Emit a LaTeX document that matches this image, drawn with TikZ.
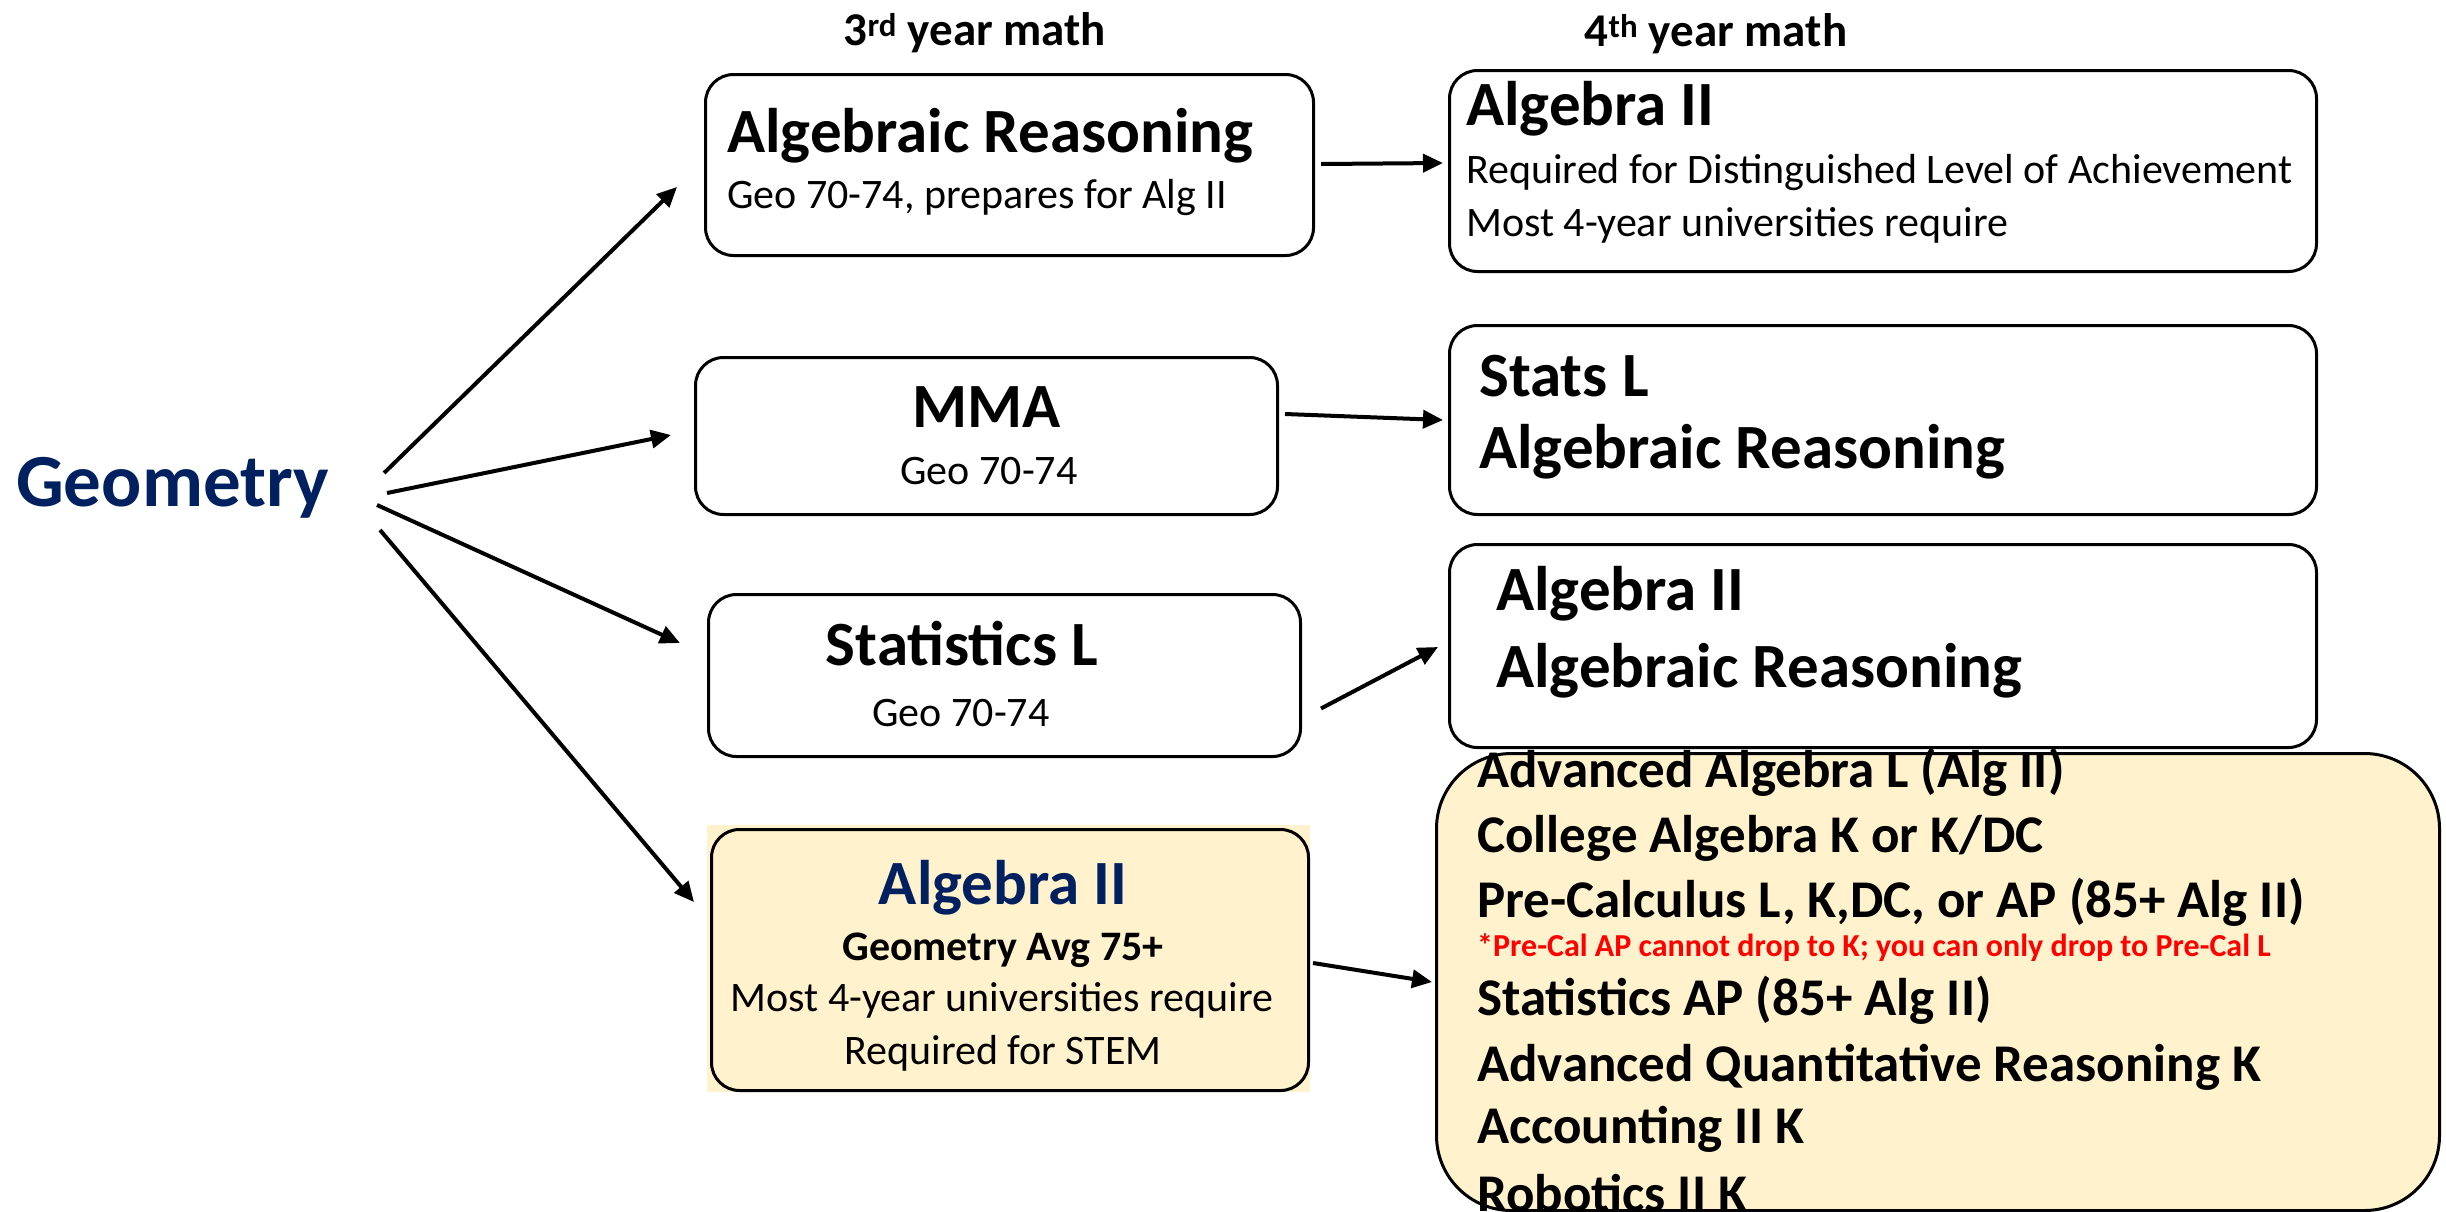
\documentclass[tikz,border=0pt]{standalone}
\usepackage{fontspec}
\setmainfont{Carlito}
\usetikzlibrary{arrows.meta,calc}
\definecolor{navy}{HTML}{002060}
\definecolor{cream}{HTML}{FFF2CC}
\definecolor{warnred}{HTML}{FF0000}
\begin{document}
\begin{tikzpicture}[x=1pt,y=-1pt,
  box/.style={draw=black, line width=3pt, rounded corners=28pt, inner sep=0pt, anchor=north west},
  arr/.style={line width=4pt, -{Triangle[length=20pt,width=18pt]}},
  lt/.style={inner sep=0pt, anchor=west},
  ct/.style={inner sep=0pt, anchor=center},
  big/.style={font=\fontsize{63}{70}\selectfont\bfseries},
  mid/.style={font=\fontsize{53}{60}\selectfont\bfseries},
  sub/.style={font=\fontsize{42}{50}\selectfont},
  subb/.style={font=\fontsize{42}{50}\selectfont\bfseries},
  head/.style={font=\fontsize{47}{52}\selectfont\bfseries},
  warn/.style={font=\fontsize{32}{36}\selectfont\bfseries, text=warnred}]
\useasboundingbox (0,0) rectangle (2446,1211);
\clip (0,0) rectangle (2446,1211);
\fill[white] (0,0) rectangle (2446,1211);

% headings
\node[ct, head] (h3) at (975,33) {3\textsuperscript{rd} year math};
\node[ct, head] (h4) at (1716,34) {4\textsuperscript{th} year math};

% Geometry
\node[lt, font=\fontsize{75}{80}\selectfont\bfseries, text=navy] (geo) at (16,488) {Geometry};

% third-year boxes
\node[box, minimum width=608pt, minimum height=181pt] (A) at (704,73) {};
\node[lt, big] (At) at (727,136) {Algebraic Reasoning};
\node[lt, sub] (As) at (727,198) {Geo 70-74, prepares for Alg II};

\node[box, minimum width=582pt, minimum height=157pt] (B) at (694,356) {};
\node[ct, big] (Bt) at (987,407) {MMA};
\node[ct, sub] (Bs) at (989,471) {Geo 70-74};

\node[box, minimum width=592pt, minimum height=162pt] (C) at (707,593) {};
\node[ct, big] (Ct) at (962,644) {Statistics L};
\node[ct, sub] (Cs) at (961,713) {Geo 70-74};

\fill[cream] (707,825) rectangle (1310,1092);
\node[box, fill=cream, minimum width=597pt, minimum height=261pt] (D) at (710,828) {};
\node[ct, big, text=navy] (Dt) at (1003,888) {Algebra II};
\node[ct, subb] (Ds1) at (1003,950) {Geometry Avg 75+};
\node[ct, sub] (Ds2) at (1002,1000) {Most 4-year universities require};
\node[ct, sub] (Ds3) at (1003,1053) {Required for STEM};

% fourth-year boxes
\node[box, minimum width=867pt, minimum height=201pt] (E) at (1448,69) {};
\node[lt, big] (Et) at (1466,109) {Algebra II};
\node[lt, sub] (Es1) at (1466,173) {Required for Distinguished Level of Achievement};
\node[lt, sub] (Es2) at (1466,225) {Most 4-year universities require};

\node[box, minimum width=867pt, minimum height=189pt] (F) at (1448,324) {};
\node[lt, big] (Ft1) at (1479,376) {Stats L};
\node[lt, big] (Ft2) at (1479,452) {Algebraic Reasoning};

\node[box, minimum width=867pt, minimum height=203pt] (G) at (1448,543) {};
\node[lt, big] (Gt1) at (1496,594) {Algebra II};
\node[lt, big] (Gt2) at (1496,671) {Algebraic Reasoning};

\node[box, fill=cream, rounded corners=75pt, minimum width=1003pt, minimum height=457pt] (H) at (1435,752) {};
\node[lt, mid] (H1) at (1477,772) {Advanced Algebra L (Alg II)};
\node[lt, mid] (H2) at (1477,838) {College Algebra K or K/DC};
\node[lt, mid] (H3) at (1477,902) {Pre-Calculus L, K,DC, or AP (85+ Alg II)};
\node[lt, warn] (H4) at (1477,948) {*Pre-Cal AP cannot drop to K; you can only drop to Pre-Cal L};
\node[lt, mid] (H5) at (1477,1000) {Statistics AP (85+ Alg II)};
\node[lt, mid] (H6) at (1477,1067) {Advanced Quantitative Reasoning K};
\node[lt, mid] (H7) at (1477,1129) {Accounting II K};
\node[lt, mid] (H8) at (1477,1193) {Robotics II K};

% connectors
\draw[arr] ($(geo.east)+(55,-15)$) -- ($(A.north west)+(-27,114)$);
\draw[arr] ($(geo.east)+(58,5)$) -- ($(B.north west)+(-23,79)$);
\draw[arr] ($(geo.east)+(48,17)$) -- ($(C.north west)+(-27,50)$);
\draw[arr] ($(geo.east)+(51,42)$) -- ($(D.north west)+(-16,74)$);
\draw[arr] ($(A.east)+(6,-1)$) -- ($(E.west)+(-5,-8)$);
\draw[arr] ($(B.east)+(6,-22)$) -- ($(F.west)+(-5,-0)$);
\draw[arr] ($(C.east)+(19,33)$) -- ($(G.west)+(-10,1)$);
\draw[arr] ($(D.east)+(3,3)$) -- ($(H.west)+(-3,0)$);
\end{tikzpicture}
\end{document}
